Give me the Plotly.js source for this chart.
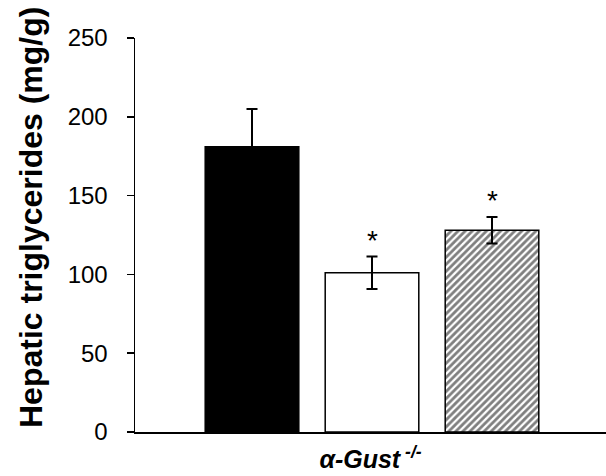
<!DOCTYPE html>
<html>
<head>
<meta charset="utf-8">
<script src="https://cdn.plot.ly/plotly-3.0.1.min.js"></script>
<style>html,body{margin:0;padding:0;background:#fff;}#chart{width:606px;height:476px;}</style>
</head>
<body>
<div id="chart"></div>
<script>
// Data
const groups = ["Control", "Group B", "Group C"];
const values = [181, 101, 128];
const errors = [24, 10.3, 8.4];
const significance = ["", "*", "*"];
const yTicks = [0, 50, 100, 150, 200, 250];
const yTitle = "Hepatic triglycerides (mg/g)";

// Styles per bar
const fills = ["#000000", "#ffffff", "#ffffff"];
const hatches = ["", "", "/"];

const FONT = "Arial, 'Liberation Sans', sans-serif";
const xs = groups.map((g, i) => i);

const traces = groups.map((g, i) => {
  const t = {
    type: "bar",
    name: g,
    x: [xs[i]],
    y: [values[i]],
    width: 0.78,
    marker: {
      color: fills[i],
      line: {color: "#000000", width: 1.5}
    },
    error_y: {
      type: "data",
      array: [errors[i]],
      visible: true,
      color: "#000000",
      thickness: 2,
      width: 5.5
    },
    hoverinfo: "skip"
  };
  if (hatches[i]) {
    t.marker.pattern = {
      shape: hatches[i],
      fgcolor: "#000000",
      bgcolor: "#ffffff",
      size: 5,
      solidity: 0.55,
      fillmode: "overlay"
    };
  }
  return t;
});

const annotations = significance.map((s, i) => ({
  x: xs[i],
  y: values[i] + errors[i] + 10.5,
  xref: "x", yref: "y",
  text: s,
  showarrow: false,
  yanchor: "middle",
  font: {family: FONT, size: 28, color: "#000"}
})).filter(a => a.text);

annotations.push({
  xref: "paper", yref: "paper",
  x: (31 - 135) / 471, y: (432 - 218) / 394,
  xanchor: "center", yanchor: "middle",
  textangle: -90,
  showarrow: false,
  text: "<b>" + yTitle + "</b>",
  font: {family: FONT, size: 32, color: "#000"}
});

const layout = {
  width: 606,
  height: 476,
  margin: {l: 135, r: 0, t: 38, b: 44},
  paper_bgcolor: "#fff",
  plot_bgcolor: "#fff",
  showlegend: false,
  barmode: "overlay",
  font: {family: FONT, color: "#000"},
  xaxis: {
    range: [-0.975, 2.95],
    showticklabels: false,
    ticks: "",
    showgrid: false,
    zeroline: false,
    showline: true,
    linecolor: "#000",
    linewidth: 1.5,
    title: {
      text: "<b><i>α-Gust</i></b><sup><b><i> -/-</i></b></sup>",
      font: {family: FONT, size: 25, color: "#000"},
      standoff: 18
    },
    automargin: false
  },
  yaxis: {
    range: [0, 250],
    tickvals: yTicks,
    ticktext: yTicks.map(String),
    ticks: "outside",
    ticklen: 7,
    tickwidth: 1.5,
    tickcolor: "#000",
    ticklabelstandoff: 14,
    tickfont: {family: FONT, size: 24, color: "#000"},
    showgrid: false,
    zeroline: false,
    showline: true,
    linecolor: "#000",
    linewidth: 1.5,
    automargin: false
  },
  annotations: annotations
};

Plotly.newPlot("chart", traces, layout, {displayModeBar: false, staticPlot: true});
</script>
</body>
</html>
